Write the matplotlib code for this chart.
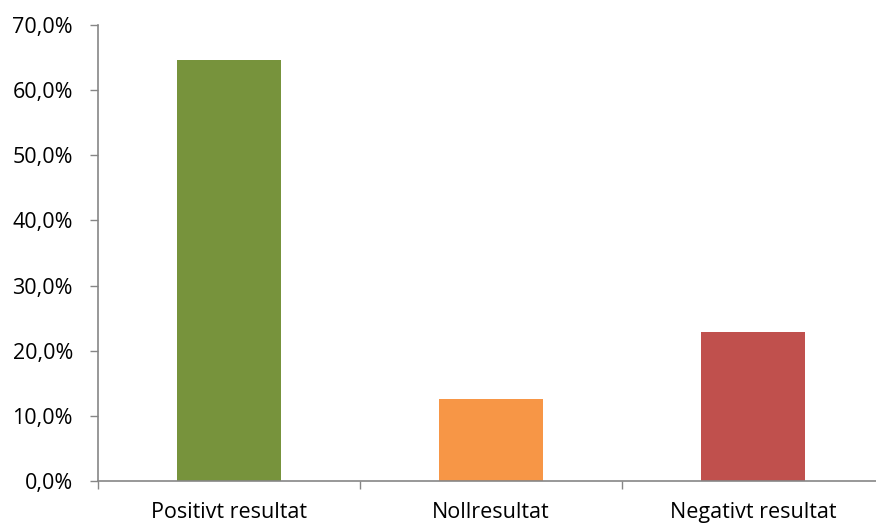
import matplotlib
matplotlib.use("Agg")
import matplotlib.pyplot as plt
from matplotlib.ticker import FuncFormatter, FixedLocator

categories = ["Positivt resultat", "Nollresultat", "Negativt resultat"]
values = [64.6, 12.6, 22.9]
colors = ["#77933C", "#F79646", "#C0504D"]
yticks = [0, 10, 20, 30, 40, 50, 60, 70]

plt.rcParams['font.family'] = ['Open Sans', 'DejaVu Sans']

fig = plt.figure(figsize=(8.76, 5.24), dpi=100)
ax = fig.add_axes([98/876, 1-481/524, (884-98)/876, (481-25)/524])

x = list(range(len(categories)))
ax.bar(x, values, width=0.4, color=colors, zorder=2)

ax.set_xlim(-0.5, 2.5)
ax.set_ylim(0, 70)
ax.set_yticks(yticks)
ax.yaxis.set_major_formatter(FuncFormatter(lambda v, p: f"{v:.1f}%".replace(".", ",")))
ax.set_xticks(x)
ax.set_xticklabels(categories)
ax.xaxis.set_minor_locator(FixedLocator([-0.5, 0.5, 1.5, 2.5]))

axis_color = "#868686"
for side in ["top", "right"]:
    ax.spines[side].set_visible(False)
for side in ["left", "bottom"]:
    ax.spines[side].set_color(axis_color)
    ax.spines[side].set_linewidth(1.2)

ax.tick_params(axis="y", direction="out", length=6, width=1, color=axis_color,
               labelsize=15.5, pad=12, labelcolor="#000000")
ax.tick_params(axis="x", which="major", length=0, labelsize=15.5, pad=15, labelcolor="#000000")
ax.tick_params(axis="x", which="minor", direction="out", length=6, width=1, color=axis_color)

fig.savefig("out.png", dpi=100)
